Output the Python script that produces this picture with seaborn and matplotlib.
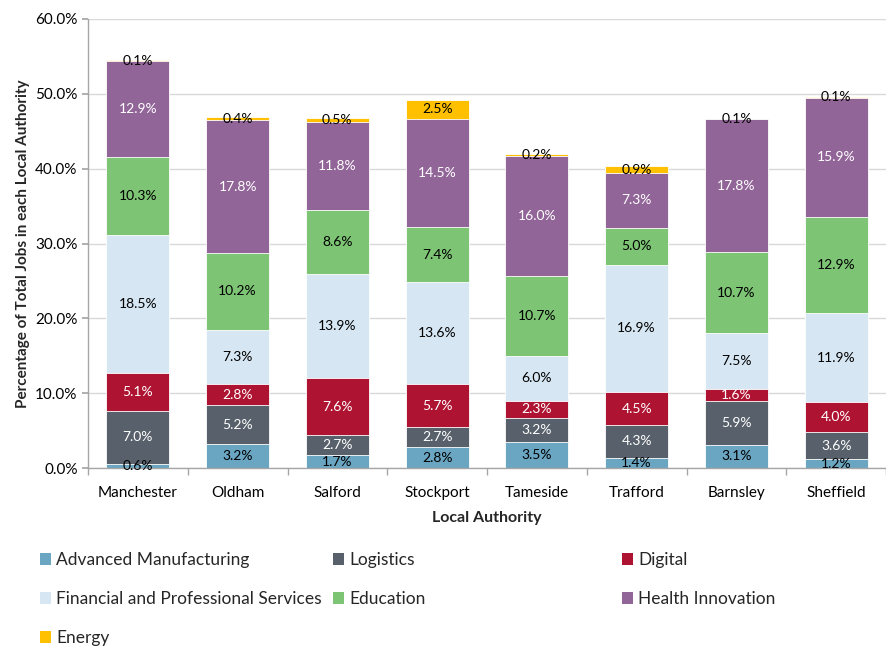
import numpy as np
import pandas as pd
import matplotlib.pyplot as plt
import matplotlib.ticker as mticker
from matplotlib.patches import Patch
import seaborn as sns

AUTHORITIES = ["Manchester", "Oldham", "Salford", "Stockport", "Tameside", "Trafford", "Barnsley", "Sheffield"]
SECTORS = ["Advanced Manufacturing", "Logistics", "Digital", "Financial and Professional Services",
           "Education", "Health Innovation", "Energy"]
COLORS = ["#6AA5C2", "#58616B", "#AE1432", "#D6E6F2", "#7DC474", "#926598", "#FFC000"]
LABEL_COLORS = ["black", "white", "white", "black", "black", "white", "black"]

adv_manufacturing = [0.6, 3.2, 1.7, 2.8, 3.5, 1.4, 3.1, 1.2]
logistics         = [7.0, 5.2, 2.7, 2.7, 3.2, 4.3, 5.9, 3.6]
digital           = [5.1, 2.8, 7.6, 5.7, 2.3, 4.5, 1.6, 4.0]
financial         = [18.5, 7.3, 13.9, 13.6, 6.0, 16.9, 7.5, 11.9]
education         = [10.3, 10.2, 8.6, 7.4, 10.7, 5.0, 10.7, 12.9]
health            = [12.9, 17.8, 11.8, 14.5, 16.0, 7.3, 17.8, 15.9]
energy            = [0.1, 0.4, 0.5, 2.5, 0.2, 0.9, 0.1, 0.1]

values = pd.DataFrame([adv_manufacturing, logistics, digital, financial, education, health, energy],
                      index=SECTORS, columns=AUTHORITIES)
tops = values.cumsum()
bottoms = tops - values

sns.set_theme(style="whitegrid")
plt.rcParams["font.family"] = ["Lato", "DejaVu Sans"]

fig = plt.figure(figsize=(8.86, 6.5), dpi=100)
ax = fig.add_axes([88 / 886, 182 / 650, 798 / 886, 449 / 650])

# layered cumulative bars, top layer first so lower layers cover them
for sector, color in reversed(list(zip(SECTORS, COLORS))):
    sns.barplot(x=AUTHORITIES, y=tops.loc[sector].values, color=color, saturation=1,
                width=0.63, errorbar=None, ax=ax, edgecolor="white", linewidth=0.6)

for sector, tcolor in zip(SECTORS, LABEL_COLORS):
    for i, auth in enumerate(AUTHORITIES):
        v = values.loc[sector, auth]
        ax.text(i, bottoms.loc[sector, auth] + v / 2, f"{v:.1f}%", ha="center", va="center",
                fontsize=10, color=tcolor)

ax.set_ylim(0, 60)
ax.set_xlim(-0.5, len(AUTHORITIES) - 0.5)
ax.yaxis.set_major_locator(mticker.MultipleLocator(10))
ax.yaxis.set_major_formatter(mticker.FuncFormatter(lambda v, _: f"{v:.1f}%"))
ax.xaxis.set_minor_locator(mticker.FixedLocator(np.arange(-0.5, len(AUTHORITIES), 1.0)))
ax.tick_params(axis="x", which="major", length=0, labelsize=11, pad=13, colors="black")
ax.tick_params(axis="x", which="minor", length=5, color="#A6A6A6", direction="out", bottom=True)
ax.tick_params(axis="y", length=4, color="#A6A6A6", labelsize=11, left=True, colors="black")
ax.grid(axis="y", color="#D9D9D9", linewidth=1)
ax.grid(axis="x", visible=False)
ax.set_axisbelow(True)
for side in ["top", "right"]:
    ax.spines[side].set_visible(False)
for side in ["left", "bottom"]:
    ax.spines[side].set_color("#A6A6A6")
    ax.spines[side].set_linewidth(1)

ax.set_xlabel("Local Authority", fontsize=11.5, fontweight="bold", labelpad=8)
ax.set_ylabel("Percentage of Total Jobs in each Local Authority", fontsize=11, fontweight="bold", labelpad=4)

handles = [Patch(facecolor=c, edgecolor="none", label=s) for s, c in zip(SECTORS, COLORS)]
columns = [[0, 3, 6], [1, 4], [2, 5]]
col_x = [40, 333, 622]
for idx, x0 in zip(columns, col_x):
    fig.legend(handles=[handles[i] for i in idx], loc="upper left", bbox_to_anchor=(x0 / 886, 1 - 552 / 650),
               frameon=False, fontsize=12.5, handlelength=0.65, handleheight=0.65, handletextpad=0.3,
               labelspacing=1.33, borderpad=0, borderaxespad=0)

fig.savefig("out.png", dpi=100)
